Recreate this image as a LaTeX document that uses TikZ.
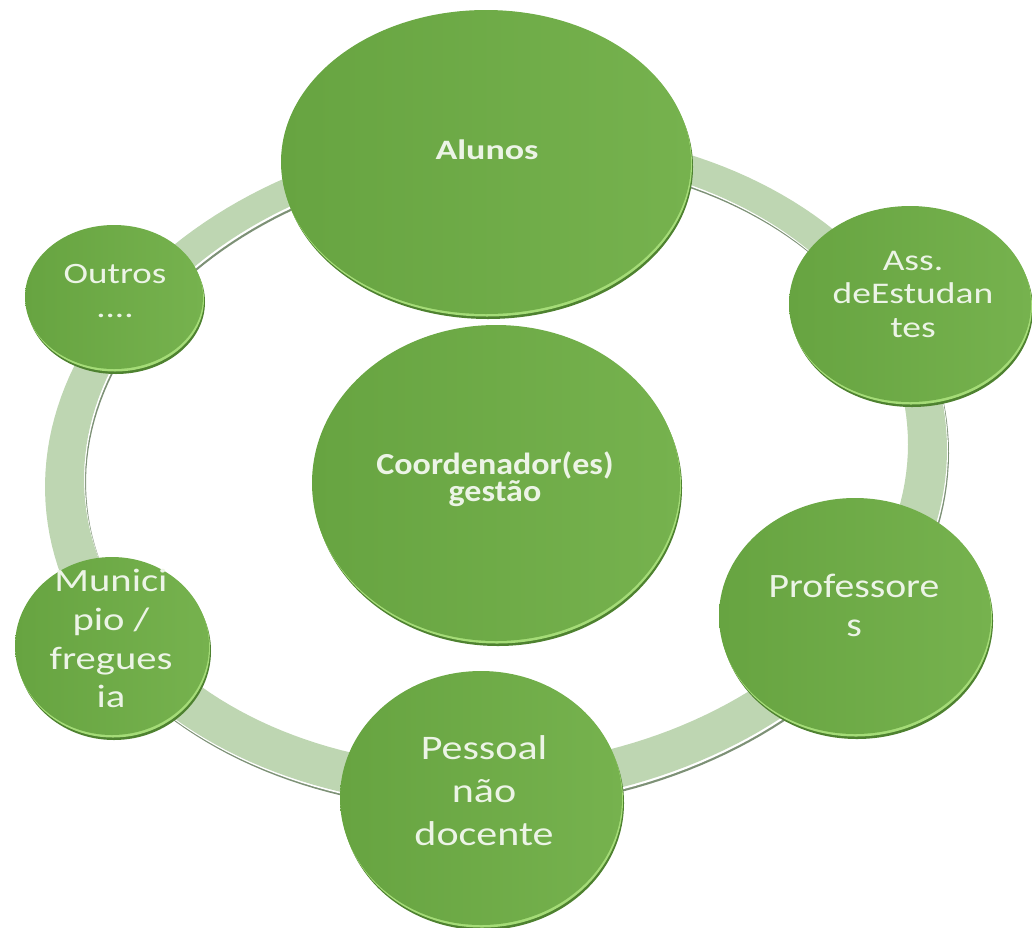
\documentclass[tikz,border=0pt]{standalone}
\usepackage{fontspec}
\setmainfont{Carlito}
\usepackage{graphicx}
\usetikzlibrary{shapes.geometric}
\definecolor{ringfill}{RGB}{190,214,178}
\definecolor{ringshadow}{RGB}{125,145,118}
\definecolor{discL}{RGB}{103,164,65}
\definecolor{discR}{RGB}{118,178,78}
\definecolor{rimdark}{RGB}{78,130,48}
\definecolor{rimlight}{RGB}{165,220,120}
\definecolor{txtcol}{RGB}{236,244,230}
\newcommand{\sqtext}[2]{\scalebox{1}[#1]{\begin{tabular}{@{}c@{}}#2\end{tabular}}}
\newcommand{\mydisc}[5]{%
  \fill[rimdark] (#2+2,#3+5) ellipse [x radius=#4, y radius=#5];
  \fill[rimlight] (#2+1,#3+2.5) ellipse [x radius=#4, y radius=#5];
  \node[disc, minimum width=#4pt*2, minimum height=#5pt*2] (#1) at (#2,#3) {};
}
\begin{document}
\begin{tikzpicture}[x=1pt,y=-1pt,
  disc/.style={ellipse, inner sep=0pt, draw=none, left color=discL, right color=discR},
  txt/.style={text=txtcol, inner sep=0pt, align=center}]
\useasboundingbox (0,0) rectangle (1032,927);
% ring
\foreach \dx/\dy/\col in {2/4/ringshadow, 1/2/white, 0/0/ringfill} {
  \fill[\col, even odd rule, shift={(\dx,\dy)}]
    plot[domain=0:360, samples=200, variable=\t] ({496+451*cos(\t)}, {468-0.042*451*cos(\t)+338*sin(\t)}) -- cycle
    plot[domain=0:360, samples=200, variable=\t] ({496+412*cos(\t)}, {461.5-0.042*412*cos(\t)+304.5*sin(\t)}) -- cycle;
}
% discs
\mydisc{alunos}{486}{162}{205}{152}
\mydisc{outros}{114}{297}{89}{72}
\mydisc{ass}{910}{304}{121}{98}
\mydisc{coord}{496}{483}{184}{158}
\mydisc{prof}{855}{616}{136}{118}
\mydisc{pessoal}{481}{798}{141}{127}
\mydisc{munic}{112}{646}{97}{89}
% texts
\node[txt, font=\bfseries\fontsize{36}{36}\selectfont] (alunosT) at (487,154) {\sqtext{0.78}{Alunos}};
\node[txt, font=\bfseries\fontsize{34}{25.6}\selectfont] (coordT) at (495,480) {\sqtext{0.9}{Coordenador(es)\\gestão}};
\node[txt, font=\fontsize{37}{42}\selectfont] (outrosT) at (115,294) {\sqtext{0.8}{Outros\\....}};
\node[txt, font=\fontsize{37.5}{41.9}\selectfont] (assT) at (913,297) {\sqtext{0.8}{Ass.\\deEstudan\\tes}};
\node[txt, font=\fontsize{39.7}{45.3}\selectfont] (profT) at (854,609) {\sqtext{0.86}{Professore\\s}};
\node[txt, font=\fontsize{42}{52.4}\selectfont] (pessoalT) at (484,794) {\sqtext{0.82}{Pessoal\\não\\docente}};
\node[txt, font=\fontsize{40.6}{48.4}\selectfont] (municT) at (111,642) {\sqtext{0.8}{Munici\\pio /\\fregues\\ia}};
\end{tikzpicture}
\end{document}
